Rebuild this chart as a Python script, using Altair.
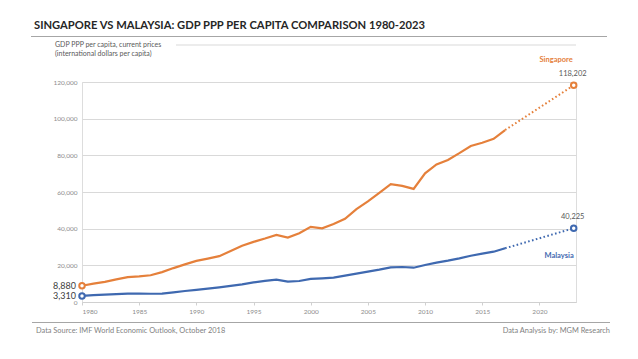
import altair as alt
import pandas as pd

years = list(range(1980, 2018))
singapore = [8880, 10000, 11000, 12300, 13600, 14000, 14600, 16300, 18500, 20500,
             22400, 23700, 25000, 27800, 30700, 32800, 34600, 36600, 35100, 37500,
             41000, 40200, 42500, 45400, 50700, 54900, 59500, 64300, 63300, 61700,
             70200, 75000, 77500, 81200, 85100, 86900, 89000, 93800]
malaysia = [3310, 3700, 4000, 4300, 4550, 4550, 4500, 4600, 5300, 6000,
            6600, 7300, 8000, 8800, 9650, 10700, 11500, 12200, 11100, 11450,
            12600, 12900, 13270, 14350, 15450, 16530, 17620, 18900, 19090, 18700,
            20180, 21450, 22540, 23820, 25250, 26350, 27440, 29300]
forecast_years = [2017, 2023]
singapore_forecast = [93800, 118202]
malaysia_forecast = [29300, 40225]
countries = ["Singapore", "Malaysia"]
colors = ["#E5803B", "#3F69B0"]
x_ticks = [1980, 1985, 1990, 1995, 2000, 2005, 2010, 2015, 2020]
y_ticks = [0, 20000, 40000, 60000, 80000, 100000, 120000]

FONT = "Lato"

hist = pd.DataFrame({
    "year": years * 2,
    "value": singapore + malaysia,
    "country": ["Singapore"] * len(years) + ["Malaysia"] * len(years),
})
fc = pd.DataFrame({
    "year": forecast_years * 2,
    "value": singapore_forecast + malaysia_forecast,
    "country": ["Singapore"] * 2 + ["Malaysia"] * 2,
})
ends = pd.DataFrame({
    "year": [1980, 1980, 2023, 2023],
    "value": [singapore[0], malaysia[0], singapore_forecast[-1], malaysia_forecast[-1]],
    "country": ["Singapore", "Malaysia", "Singapore", "Malaysia"],
})
ends["label"] = ends["value"].map(lambda v: f"{v:,}")

xs = alt.X("year:Q", scale=alt.Scale(domain=[1980, 2023.2], nice=False, zero=False),
           axis=alt.Axis(values=x_ticks, format="d", title=None, grid=False,
                         labelFontSize=6.5, labelColor="#8c8c8c", labelFont=FONT,
                         domainColor="#d0d0d0", tickColor="#d0d0d0", tickSize=3,
                         labelPadding=3, labelOverlap=False))
ys = alt.Y("value:Q", scale=alt.Scale(domain=[0, 120000], nice=False),
           axis=alt.Axis(values=y_ticks, title=None, grid=True,
                         labelExpr="format(datum.value, ',.0f')",
                         gridColor="#d9d9d9", domain=False, ticks=False,
                         labelFontSize=6.5, labelColor="#8c8c8c", labelFont=FONT,
                         labelPadding=5, labelOverlap=False))
col = alt.Color("country:N", scale=alt.Scale(domain=countries, range=colors), legend=None)

lines = alt.Chart(hist).mark_line(strokeWidth=2.2).encode(x=xs, y=ys, color=col, detail="country:N")
dots = alt.Chart(fc).mark_line(strokeWidth=2, strokeDash=[1.6, 2.4]).encode(
    x=xs, y=ys, color=col, detail="country:N")
circles = alt.Chart(ends).mark_point(shape="circle", size=30, strokeWidth=2, filled=False,
                                     fill="white", fillOpacity=1, opacity=1).encode(
    x=xs, y=ys, color=col)

left_lbl = alt.Chart(ends[ends.year == 1980]).mark_text(
    align="right", baseline="middle", dx=-6, font=FONT, fontSize=9, color="#404040").encode(
    x=xs, y=ys, text="label:N")
right_lbl = alt.Chart(ends[ends.year == 2023]).mark_text(
    align="center", baseline="middle", dx=-1, dy=-11, font=FONT, fontSize=7.5, color="#595959").encode(
    x=xs, y=ys, text="label:N")

name_df = pd.DataFrame({"year": [2023, 2023], "value": [singapore_forecast[-1], malaysia_forecast[-1]],
                        "country": countries})
sg_name = alt.Chart(name_df[name_df.country == "Singapore"]).mark_text(
    align="right", baseline="middle", dy=-25, dx=-1, font=FONT, fontSize=7.5, fontWeight="bold").encode(
    x=xs, y=ys, text="country:N", color=col)
my_name = alt.Chart(name_df[name_df.country == "Malaysia"]).mark_text(
    align="right", baseline="middle", dy=28, dx=0, font=FONT, fontSize=7.5, fontWeight="bold").encode(
    x=xs, y=ys, text="country:N", color=col)


def txt(s, x, y, size, color, weight="normal", align="left"):
    return alt.Chart(pd.DataFrame({"t": [s]})).mark_text(
        align=align, baseline="middle", font=FONT, fontSize=size, color=color, fontWeight=weight).encode(
        x=alt.value(x), y=alt.value(y), text="t:N")


def rule(x1, x2, y, color, w):
    return alt.Chart(pd.DataFrame({"a": [0]})).mark_rule(color=color, strokeWidth=w).encode(
        x=alt.value(x1), x2=alt.value(x2), y=alt.value(y))


OX, OY = 82, 82
title = txt("SINGAPORE VS MALAYSIA: GDP PPP PER CAPITA COMPARISON 1980-2023", 34 - OX, 26 - OY, 11.2, "#262626", "bold")
sub1 = txt("GDP PPP per capita, current prices", 55 - OX, 45 - OY, 7, "#595959")
sub2 = txt("(international dollars per capita)", 55 - OX, 53.5 - OY, 7, "#595959")
foot1 = txt("Data Source: IMF World Economic Outlook, October 2018", 36 - OX, 331 - OY, 7.4, "#7f7f7f")
foot2 = txt("Data Analysis by: MGM Research", 610 - OX, 331 - OY, 7.4, "#7f7f7f", align="right")
r1 = rule(31 - OX, 607 - OX, 36.5 - OY, "#a6a6a6", 1.2)
r2 = rule(176 - OX, 576 - OX, 45 - OY, "#d9d9d9", 1)
r3 = rule(32 - OX, 610 - OX, 322.5 - OY, "#a6a6a6", 1.2)

chart = alt.layer(
    lines, dots, circles, left_lbl, right_lbl, sg_name, my_name,
    title, sub1, sub2, foot1, foot2, r1, r2, r3
).properties(
    width=494, height=220,
    autosize=alt.AutoSizeParams(type="none"),
    padding={"left": 74, "top": 74, "right": 54, "bottom": 49},
).configure_view(stroke=None).configure(background="white")

chart.save("out.html", embed_options={"renderer": "svg", "actions": False})
